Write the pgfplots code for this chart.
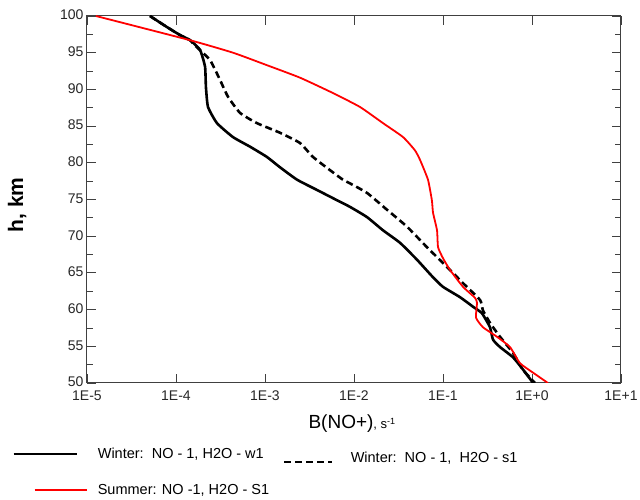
\documentclass[border=0pt]{standalone}
\usepackage{fontspec}
\setmainfont{Liberation Sans}
\usepackage{pgfplots}
\pgfplotsset{compat=1.18}
\pgfplotsset{
  legsolid/.style={legend image code/.code={\draw[##1] (0pt,0pt) -- (63pt,0pt); \path (73pt,0pt);}},
  legdash/.style={legend image code/.code={\draw[##1] (0pt,-8pt) -- (48pt,-8pt); \path (55pt,0pt);}},
  legred/.style={legend image code/.code={\draw[##1] (21pt,0pt) -- (73pt,0pt); \path (0pt,0pt);}},
}
\begin{document}
\begin{tikzpicture}
\begin{axis}[
  at={(0,0)}, anchor=south west,
  scale only axis, width=534pt, height=367pt,
  xmode=log, log basis x=10,
  xmin=1e-5, xmax=10, ymin=50, ymax=100,
  xtick={1e-5,1e-4,1e-3,1e-2,1e-1,1,10},
  xticklabels={1E-5,1E-4,1E-3,1E-2,1E-1,1E+0,1E+1},
  ytick={50,55,...,100},
  minor y tick num=1,
  tick align=inside,
  major tick length=9pt, minor tick length=6pt,
  every tick/.style={black!75, line width=0.8pt},
  axis line style={black!75, line width=1pt},
  ticklabel style={font=\fontsize{14}{16}\selectfont, text=black!85},
  xticklabel style={yshift=-4pt},
  yticklabel style={yshift=1pt},
  /pgf/number format/assume math mode=true,
  xlabel={\fontsize{19}{21}\selectfont B(NO+)\fontsize{13}{15}\selectfont, s\raisebox{0.7ex}{\fontsize{9}{10}\selectfont -1}},
  xlabel style={at={(axis description cs:0.496,0)}, anchor=base, yshift=-46pt},
  ylabel={\bfseries\fontsize{21}{23}\selectfont h, km},
  ylabel style={at={(axis description cs:-0.131,0.485)}, anchor=center},
  legend columns=2,
  legend cell align=left,
  legend style={at={(axis description cs:-0.1404,-0.171)}, anchor=north west,
    draw=none, fill=none, font=\fontsize{14.5}{16}\selectfont,
    inner sep=0pt, row sep=19pt,
    /tikz/every odd column/.append style={column sep=8pt},
    /tikz/every even column/.append style={column sep=12pt}},
]
% Winter w1 (solid)
\addplot[black, line width=2.6pt, smooth, tension=0.3, legsolid] coordinates {
(5.1e-5,100) (7.9e-5,98.5) (1.11e-4,97.4) (1.44e-4,96.7) (1.86e-4,95.4)
(2.12e-4,93.1) (2.17e-4,90.3) (2.29e-4,87.6) (2.89e-4,85.4) (4.37e-4,83.5)
(6.78e-4,82.2) (1.05e-3,80.8) (1.47e-3,79.4) (2.29e-3,77.7) (3.84e-3,76.3)
(6.44e-3,74.9) (9.0e-3,74.0) (1.40e-2,72.6) (2.12e-2,70.8) (3.29e-2,69.1)
(5.10e-2,66.8) (7.73e-2,64.4) (0.100,63.1) (0.155,61.7) (0.217,60.4)
(0.274,59.5) (0.337,57.6) (0.365,55.9) (0.437,54.9) (0.612,53.5)
(0.773,52.0) (1.03,50.0)
};
\addlegendentry{Winter:\ \ NO - 1, H2O - w1}
% Winter s1 (dashed)
\addplot[black, line width=2.6pt, dash pattern=on 7pt off 4pt, smooth, tension=0.3, legdash] coordinates {
(5.1e-5,100) (7.9e-5,98.5) (1.11e-4,97.4) (1.44e-4,96.7) (1.63e-4,96.0)
(2.41e-4,94.0) (3.12e-4,91.3) (3.84e-4,89.0) (5.24e-4,86.8) (8.13e-4,85.4)
(1.47e-3,84.1) (2.47e-3,82.7) (3.46e-3,80.8) (5.37e-3,79.0) (7.5e-3,77.7)
(9.0e-3,77.2) (1.40e-2,75.9) (2.35e-2,73.6) (3.94e-2,71.3) (6.61e-2,68.5)
(0.111,65.8) (0.168,63.6) (0.261,61.3) (0.281,59.9) (0.337,58.2)
(0.437,56.3) (0.612,54.1) (0.792,51.8) (1.08,50.0)
};
\addlegendentry{\raisebox{-9pt}{Winter:\ \ NO - 1,\ \ H2O - s1}}
% Summer S1 (red)
\addplot[red, line width=1.8pt, smooth, tension=0.3, legred] coordinates {
(1.26e-5,100) (1.44e-4,96.7) (4.37e-4,95.0) (1.05e-3,93.3) (2.47e-3,91.6)
(5.81e-3,89.5) (1.17e-2,87.6) (2.12e-2,85.4) (3.56e-2,83.5) (4.84e-2,81.7)
(5.52e-2,80.4) (6.78e-2,77.7) (7.5e-2,74.9) (7.73e-2,73.2) (8.57e-2,70.8)
(8.8e-2,68.5) (0.100,67.0) (0.120,65.4) (0.168,63.1) (0.229,61.6)
(0.241,60.9) (0.235,58.9) (0.281,57.6) (0.404,56.3) (0.566,54.9)
(0.733,52.7) (1.03,51.4) (1.51,50.0)
};
\addlegendentry{Summer: NO -1, H2O - S1}
\end{axis}
\pgfresetboundingbox
\path[use as bounding box] (-87pt,-117pt) rectangle (553pt,383pt);
\end{tikzpicture}
\end{document}
